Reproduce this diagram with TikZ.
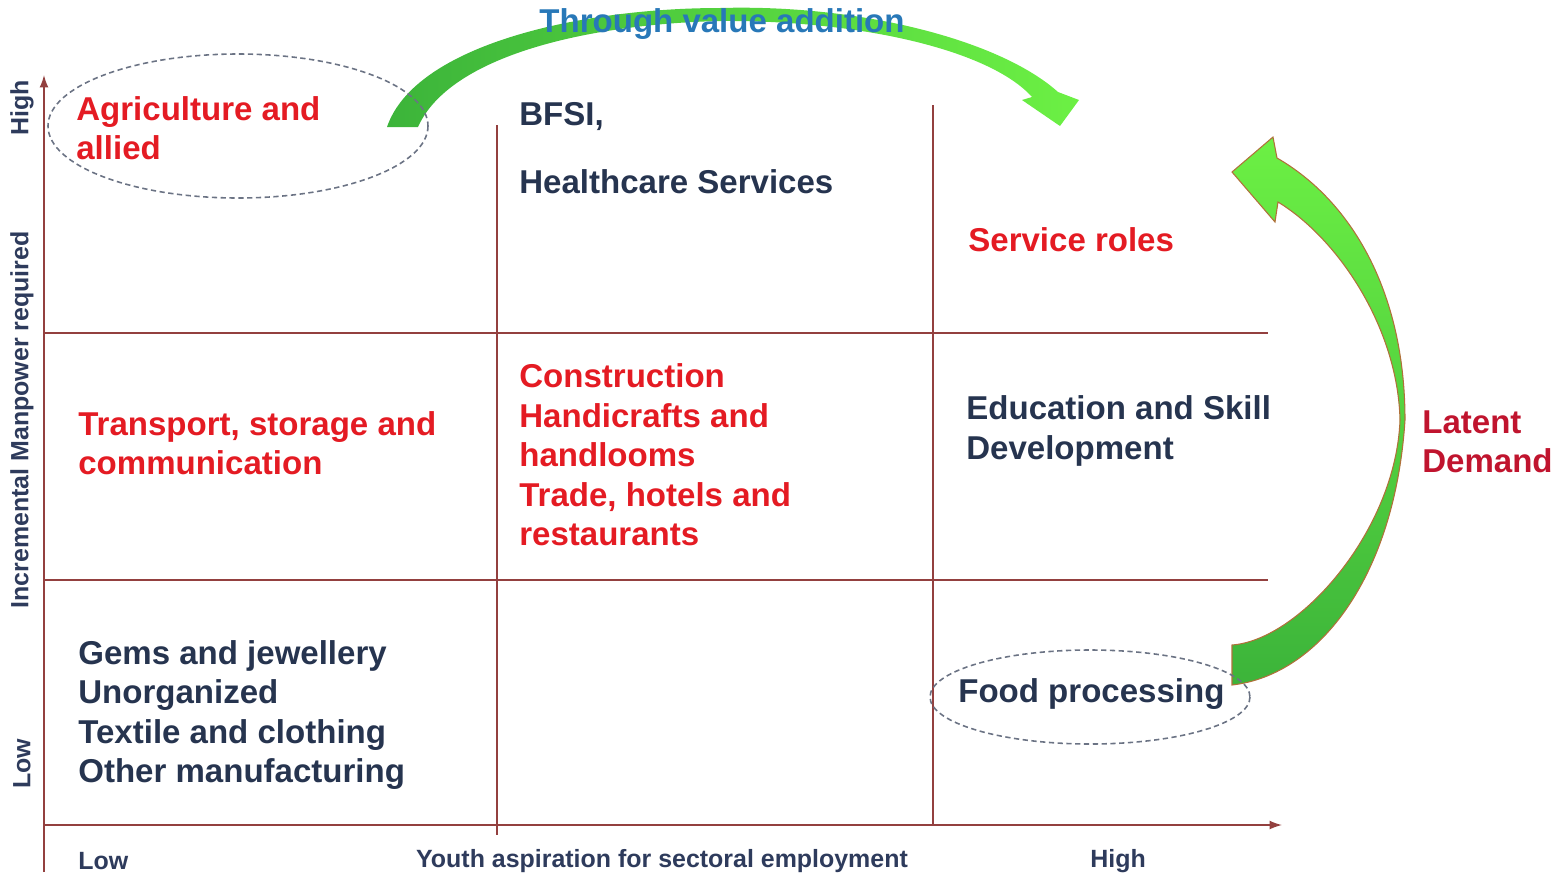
\documentclass[tikz,border=0pt]{standalone}
\usepackage{fontspec}
\setmainfont{Liberation Sans}
\usetikzlibrary{arrows.meta}

\definecolor{sectorred}{HTML}{E41B23}
\definecolor{sectornavy}{HTML}{26344F}
\definecolor{latentred}{HTML}{C0142E}
\definecolor{axisnavy}{HTML}{2E3B5C}
\definecolor{throughblue}{HTML}{2878B8}
\definecolor{gridbrown}{HTML}{93403F}
\definecolor{ringgray}{HTML}{6B7384}
\definecolor{arrowdark}{HTML}{3CB43A}
\definecolor{arrowlight}{HTML}{6CF044}
\definecolor{arrowedge}{HTML}{B0703A}

\tikzset{
  sector/.style={font=\fontsize{18.8}{22.5}\selectfont\bfseries, align=left, anchor=west, inner sep=0pt},
  redsector/.style={sector, text=sectorred},
  navysector/.style={sector, text=sectornavy},
  axislabel/.style={font=\fontsize{14.2}{16}\selectfont\bfseries, text=axisnavy, inner sep=0pt},
  gridline/.style={draw=gridbrown, line width=0.8pt},
  ring/.style={draw=ringgray, line width=0.9pt, dash pattern=on 3pt off 2pt}
}

\begin{document}
\begin{tikzpicture}[x=0.02cm, y=-0.02cm]
  \useasboundingbox (0,0) rectangle (1566,877);

  % Axis lines
  \draw[gridline, -{Latex[length=7pt,width=5pt]}] (44,872) -- (44,75);
  \draw[gridline, -{Latex[length=7pt,width=5pt]}] (44,825) -- (1282,825);

  % Grid
  \draw[gridline] (44,333) -- (1268,333);
  \draw[gridline] (44,580) -- (1268,580);
  \draw[gridline] (497,125) -- (497,835);
  \draw[gridline] (933,105) -- (933,825);

  % Green arrows
  \shade[left color=arrowdark, right color=arrowlight]
    (387,127) .. controls (415,45) and (580,8) .. (720,8)
    .. controls (860,4) and (1000,40) .. (1058,92)
    -- (1079,100) -- (1060,126) -- (1022,100) -- (1032,97)
    .. controls (990,50) and (860,20) .. (720,21)
    .. controls (590,24) and (450,55) .. (418,127) -- cycle;
  \shade[top color=arrowlight, bottom color=arrowdark, draw=arrowedge, line width=0.6pt]
    (1232,645) -- (1232,685)
    .. controls (1320,675) and (1395,575) .. (1405,420)
    .. controls (1405,290) and (1350,200) .. (1277,158)
    -- (1273,137) -- (1232,172) -- (1275,222) -- (1278,202)
    .. controls (1340,240) and (1398,330) .. (1400,420)
    .. controls (1396,530) and (1300,640) .. (1232,645) -- cycle;

  % Rings
  \draw[ring] (238,126) ellipse [x radius=190, y radius=72];
  \draw[ring] (1090,697) ellipse [x radius=160, y radius=47];

  % Sectors
  \node[redsector] (agri) at (76,128) {Agriculture and\\allied};
  \node[navysector] (bfsi) at (519,117) {BFSI,};
  \node[navysector] (health) at (519,182) {Healthcare Services};
  \node[redsector] (service) at (968,240) {Service roles};
  \node[redsector] (transport) at (78,443) {Transport, storage and\\communication};
  \node[redsector] (construct) at (519,455) {Construction\\Handicrafts and\\handlooms\\Trade, hotels and\\restaurants};
  \node[navysector] (edu) at (966,431) {Education and Skill\\Development};
  \node[navysector] (gems) at (78,715) {Gems and jewellery\\Unorganized\\Textile and clothing\\Other manufacturing};
  \node[navysector] (food) at (958,694) {Food processing};
  \node[sector, text=latentred] (latent) at (1422,442) {Latent\\Demand};
  \node[sector, anchor=center, text=throughblue] (through) at (722,24) {Through value addition};

  % Axis labels
  \node[axislabel, rotate=90] (yhigh) at (22,108) {High};
  \node[axislabel, rotate=90] (ylabel) at (22,420) {Incremental Manpower required};
  \node[axislabel, rotate=90] (ylow) at (22,764) {Low};
  \node[axislabel, anchor=west] (xlow) at (78,861) {Low};
  \node[axislabel] (xlabel) at (662,861) {Youth aspiration for sectoral employment};
  \node[axislabel, anchor=west] (xhigh) at (1090,861) {High};
\end{tikzpicture}
\end{document}
